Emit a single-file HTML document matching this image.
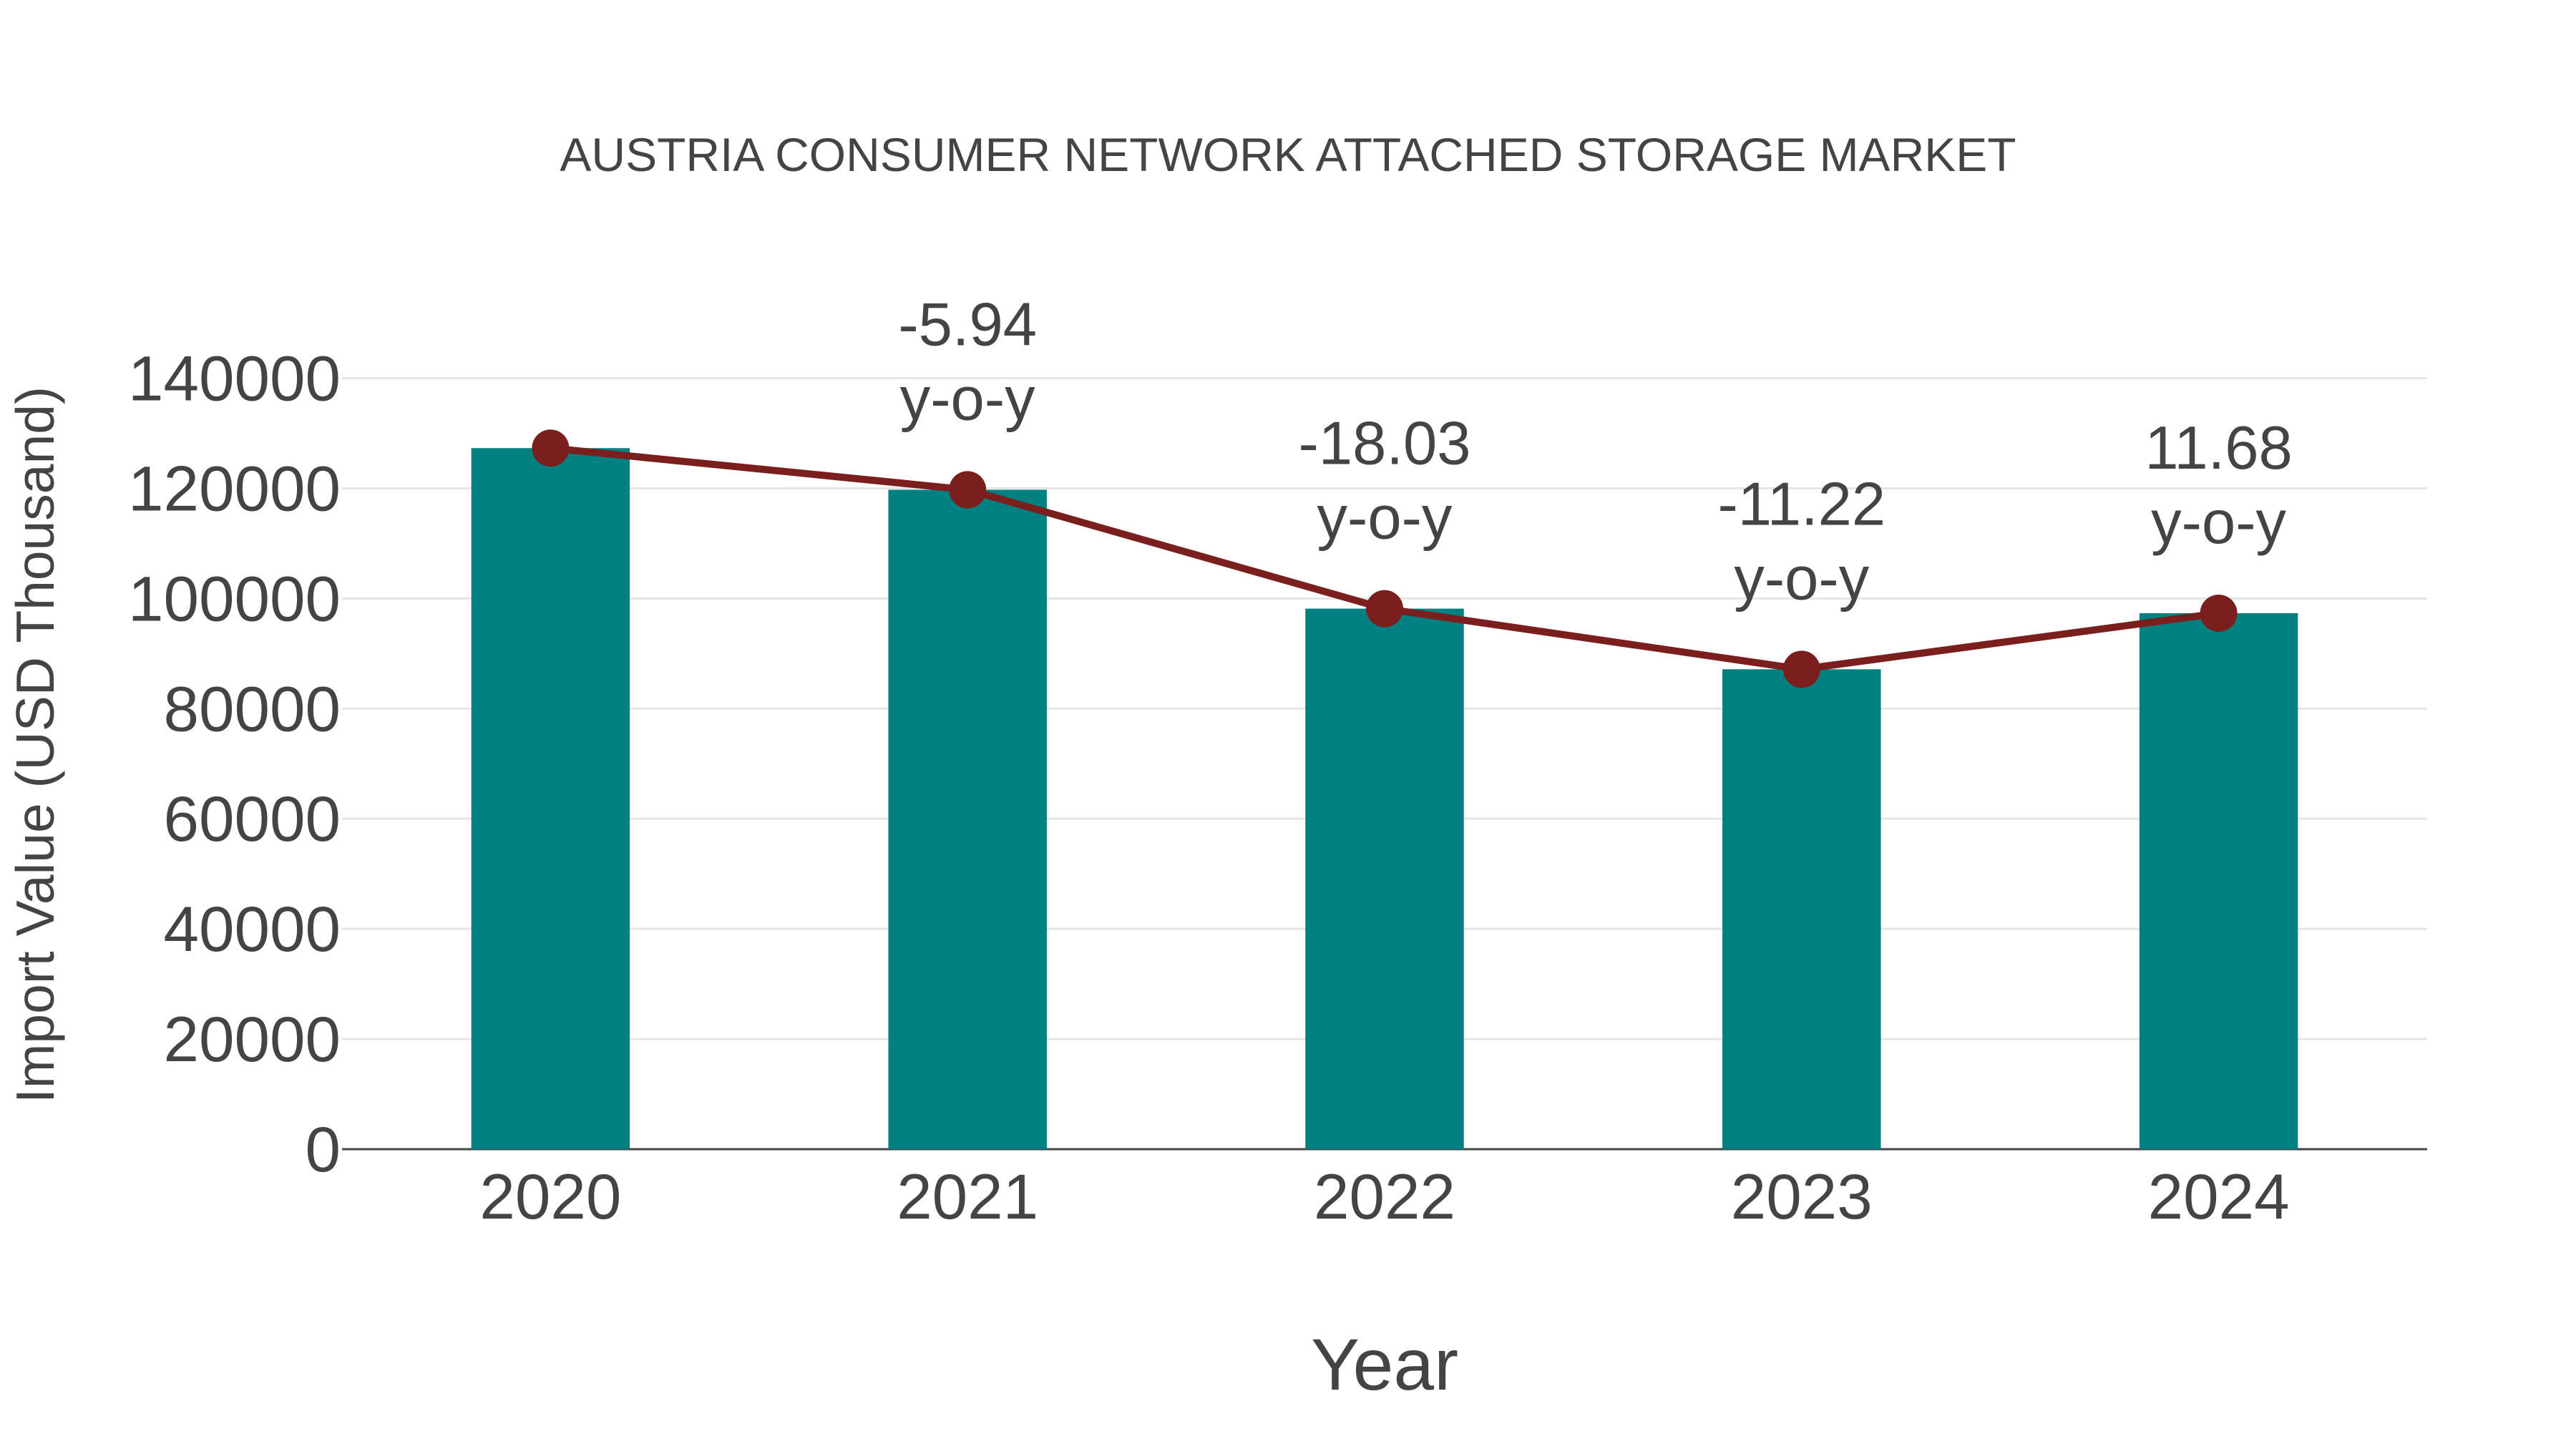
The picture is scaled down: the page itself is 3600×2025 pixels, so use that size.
<!DOCTYPE html>
<html><head><meta charset="utf-8"><style>
html,body{margin:0;padding:0;background:#fff;}
svg{display:block;font-family:"Liberation Sans",Arial,sans-serif;}
</style></head><body>
<svg id="chart" width="3600" height="2025" viewBox="0 0 3600 2025" xmlns="http://www.w3.org/2000/svg">
<text x="1800" y="239" text-anchor="middle" font-size="66" fill="#444">AUSTRIA CONSUMER NETWORK ATTACHED STORAGE MARKET</text>
<g id="grid"></g><g id="bars"></g><g id="line"></g><g id="labels"></g>
<text x="1935" y="1942" text-anchor="middle" font-size="102" fill="#444">Year</text>
<text transform="translate(75,1041) rotate(-90)" text-anchor="middle" font-size="75" fill="#444">Import Value (USD Thousand)</text>
</svg>
<script>
const categories = ["2020","2021","2022","2023","2024"];
const values = [127300, 119740, 98150, 87140, 97320];
const yoyLabels = ["", "-5.94", "-18.03", "-11.22", "11.68"];
const yTicks = [0,20000,40000,60000,80000,100000,120000,140000];

const NS="http://www.w3.org/2000/svg";
const L=478,R=3392,Y0=1606,Y140=528.5;
const band=(R-L)/categories.length;
function xs(i){return L+band*(i+0.5);}
function ys(v){return Y0-(v/140000)*(Y0-Y140);}
function mk(tag,attrs,parent){const e=document.createElementNS(NS,tag);for(const k in attrs)e.setAttribute(k,attrs[k]);parent.appendChild(e);return e;}
const grid=document.getElementById('grid'),bars=document.getElementById('bars'),line=document.getElementById('line'),labels=document.getElementById('labels');
yTicks.forEach(t=>{
  if(t>0){const g=mk('line',{x1:L,x2:R,y1:ys(t),y2:ys(t),stroke:'#e5e5e5','stroke-width':3},grid);
  
  }
  const tx=mk('text',{x:476,y:ys(t)+31,'text-anchor':'end','font-size':89,fill:'#444'},grid);
  tx.textContent=t;
  
  
});
const ax=mk('line',{x1:L,x2:R,y1:Y0,y2:Y0,stroke:'#444','stroke-width':3},grid);


const bw=band*0.38;
categories.forEach((c,i)=>{
  const b=mk('rect',{x:xs(i)-bw/2,y:ys(values[i]),width:bw,height:Y0-ys(values[i]),fill:'#008080'},bars);
  
  
  const t=mk('text',{x:xs(i),y:1703,'text-anchor':'middle','font-size':89,fill:'#444'},labels);
  t.textContent=c;
  
  
});
const pts=values.map((v,i)=>xs(i)+','+ys(v)).join(' ');
const pl=mk('polyline',{points:pts,fill:'none',stroke:'#7b1e1e','stroke-width':10},line);


values.forEach((v,i)=>{
  const c=mk('circle',{cx:xs(i),cy:ys(v),r:26,fill:'#7b1e1e'},line);
  
  
  if(yoyLabels[i]){
    const a=mk('text',{x:xs(i),y:ys(v)-202,'text-anchor':'middle','font-size':85,fill:'#444'},labels);
    a.textContent=yoyLabels[i];
    
    
    const b=mk('text',{x:xs(i),y:ys(v)-98,'text-anchor':'middle','font-size':85,fill:'#444'},labels);
    b.textContent='y-o-y';
    
    
  }
});
</script>
</body></html>
